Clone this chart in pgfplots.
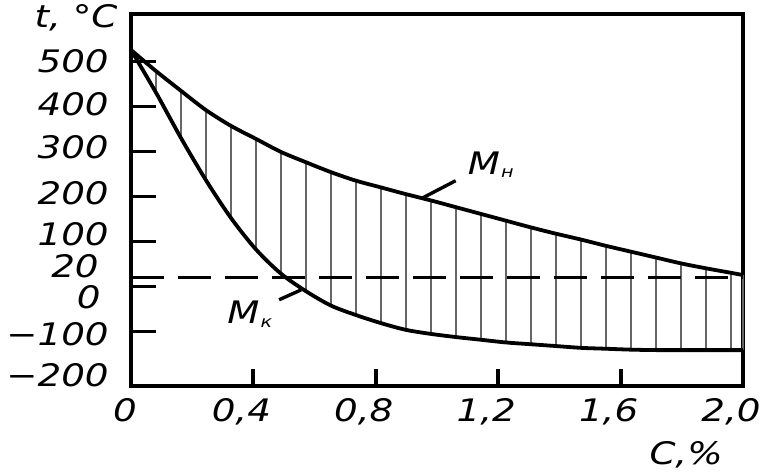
\documentclass[border=0pt]{standalone}
\usepackage{pgfplots}
\pgfplotsset{compat=1.18}
\usepackage{pgfplotstable}
\usepackage{fontspec}
\setmainfont{DejaVu Sans}[FakeStretch=1.2]
\newcommand\lbl{\fontsize{15.5}{18}\selectfont\itshape}
\newcommand\sub{\fontsize{8}{8}\selectfont\itshape}

% c = carbon content, up = M_n (start), lo = M_k (finish)
\pgfplotstableread{
c      up   lo
0      526  526
0.0817 479  431
0.1634 435  330
0.2451 392  236
0.3268 357  152
0.4085 328   82
0.4902 299   28
0.5719 276  -11
0.6536 254  -43
0.7353 235  -64
0.8170 220  -82
0.8987 205  -97
0.9804 191 -106
1.0621 176 -113
1.1438 161 -119
1.2255 146 -125
1.3072 131 -129
1.3889 117 -133
1.4706 104 -137
1.5523  90 -139
1.6340  77 -141
1.7157  64 -142
1.7974  51 -142
1.8791  40 -142
1.9608  30 -142
2.0     25 -142
}\curves

\begin{document}
\begin{tikzpicture}
\useasboundingbox (-65.5pt,-43pt) rectangle (320.5pt,193pt);
\begin{axis}[
  scale only axis, width=306pt, height=186pt,
  xmin=0, xmax=2, ymin=-221.9, ymax=606,
  clip=false,
  axis line style={line width=2.2pt},
  major tick length=0pt,
  xtick={0,0.4,0.8,1.2,1.6,2.0},
  xticklabels={{\hspace{6pt}0},{0,4},{0,8},{1,2},{1,6},{2,0}},
  ytick={-200,-100,0,20,100,200,300,400,500},
  yticklabels={\raisebox{0.6pt}{−200},\raisebox{-1.4pt}{−100},\raisebox{-5.3pt}{0\hspace{4pt}},\raisebox{5.6pt}{20\hspace{5pt}},\raisebox{3.7pt}{100},\raisebox{1.7pt}{200},\raisebox{2.2pt}{300},\raisebox{1.3pt}{400},500},
  xticklabel style={font=\lbl, anchor=north, inner sep=0pt, yshift=-6pt, xshift=-6pt, text height=11.3pt, text depth=0pt},
  yticklabel style={font=\lbl, anchor=east, inner sep=0pt, xshift=-11pt, text height=11.3pt, text depth=0pt},
  xlabel={C,\%}, ylabel={t, °C},
  every axis x label/.style={at={(axis description cs:0.907,-0.1855)}, anchor=center, font=\lbl},
  every axis y label/.style={at={(axis description cs:-0.0899,0.989)}, anchor=center, font=\lbl},
]
\addplot[black!60, line width=0.9pt, quiver={u=0, v=\thisrow{up}-\thisrow{lo}}] table[x=c, y=lo]{\curves};
\addplot[line width=1.7pt, dash pattern=on 16.5pt off 7pt] coordinates {(0,20) (2,20)};
\addplot[line width=1.9pt, smooth] table[x=c, y=up]{\curves};
\addplot[line width=1.9pt, smooth] table[x=c, y=lo]{\curves};

% tick marks, drawn inward
\pgfplotsinvokeforeach{-100,0,100,200,300,400,500}{
  \draw[line width=1.5pt] (axis cs:0,#1) -- ([xshift=12.5pt]axis cs:0,#1);
}
\pgfplotsinvokeforeach{0.4,0.8,1.2,1.6}{
  \draw[line width=2pt] (axis cs:#1,-221.9) -- ([yshift=8.5pt]axis cs:#1,-221.9);
}

\draw[line width=1.7pt] (axis cs:0.951,196) -- (axis cs:1.061,235);
\node[font=\lbl, anchor=base west, inner sep=0pt] at (axis cs:1.10,248) {M\kern0.5pt\raisebox{-1.5pt}{\sub н}};
\draw[line width=1.7pt] (axis cs:0.556,-8) -- (axis cs:0.484,-30);
\node[font=\lbl, anchor=base west, inner sep=0pt] at (axis cs:0.314,-82) {M\kern0.5pt\raisebox{-2pt}{\sub к}};
\end{axis}
\end{tikzpicture}
\end{document}
